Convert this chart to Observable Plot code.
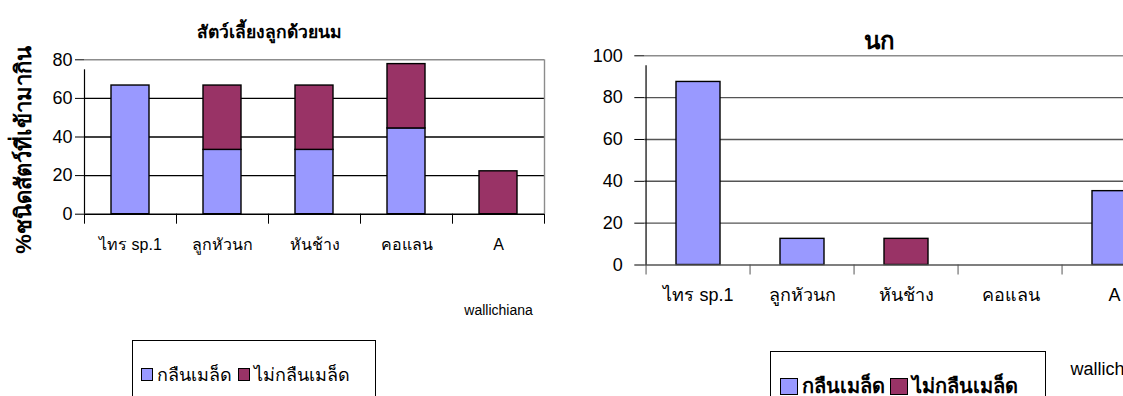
<!DOCTYPE html>
<html>
<head>
<meta charset="utf-8">
<script src="https://cdn.jsdelivr.net/npm/d3@7"></script>
<script src="https://cdn.jsdelivr.net/npm/@observablehq/plot@0.6"></script>
<style>
  html, body { margin: 0; padding: 0; background: #fff; }
  #page { position: relative; width: 1123px; height: 396px; overflow: hidden;
          font-family: "Liberation Sans", Arial, "DejaVu Sans", "Noto Sans", sans-serif; color: #000; }
  .abs { position: absolute; white-space: nowrap; }
  .legend { position: absolute; border: 1px solid #000; background: #fff; box-sizing: border-box;
            display: flex; align-items: flex-start; }
  .legend .sw { display: inline-block; border: 1.5px solid #000; box-sizing: border-box; }
  .legend .item { display: flex; align-items: center; }
</style>
</head>
<body>
<div id="page"></div>
<script>
// Fruit species (x categories); long names wrap onto a second line
const categories = ["ไทร sp.1", "ลูกหัวนก", "หันช้าง", "คอแลน", "A wallichiana"];
const labelLine1 = ["ไทร sp.1", "ลูกหัวนก", "หันช้าง", "คอแลน", "A"];
const labelLine2 = ["", "", "", "", "wallichiana"];

// Series: seed swallowed / not swallowed
const seriesNames = ["กลืนเมล็ด", "ไม่กลืนเมล็ด"];
const seriesColors = ["#9999ff", "#993366"];

// Mammals: % of visiting species
const mammalSwallowed    = [66.67, 33.33, 33.33, 44.44, 0];
const mammalNotSwallowed = [0, 33.33, 33.33, 33.33, 22.22];
const mammalTicks = [0, 20, 40, 60, 80];

// Birds: % of visiting species
const birdSwallowed    = [87.5, 12.5, 0, 0, 35.3];
const birdNotSwallowed = [0, 0, 12.5, 0, 0];
const birdTicks = [0, 20, 40, 60, 80, 100];

const fontFamily = '"Liberation Sans", Arial, "DejaVu Sans", "Noto Sans", sans-serif';

function panel(o) {
  const rows = categories.flatMap((c, i) => [
    {cat: c, series: seriesNames[0], value: o.swallowed[i]},
    {cat: c, series: seriesNames[1], value: o.notSwallowed[i]}
  ]).filter(r => r.value > 0);
  const yMax = o.ticks[o.ticks.length - 1];
  const step = (o.width - o.mL - o.mR) / categories.length;
  const first = categories[0], last = categories[categories.length - 1];
  const line1 = new Map(categories.map((c, i) => [c, labelLine1[i]]));
  const line2 = new Map(categories.map((c, i) => [c, labelLine2[i]]));
  return Plot.plot({
    width: o.width, height: o.height,
    marginLeft: o.mL, marginRight: o.mR, marginTop: o.mT, marginBottom: o.mB,
    x: {domain: categories, paddingInner: o.padding, paddingOuter: o.padding / 2, axis: null},
    y: {domain: [0, yMax], axis: null},
    color: {domain: seriesNames, range: seriesColors},
    style: {fontFamily, background: "transparent", overflow: "visible", color: "#000"},
    marks: [
      // horizontal gridlines
      Plot.ruleY(o.ticks.filter(t => t > 0 && t < yMax), {stroke: o.gridColor, strokeWidth: 1.4}),
      // plot-area border (top and right)
      Plot.ruleY([yMax], {stroke: "#8c8c8c", strokeWidth: 1.4}),
      Plot.ruleX([last], {x: d => d, dx: step / 2, y1: 0, y2: yMax, stroke: "#8c8c8c", strokeWidth: 1.4}),
      // stacked bars
      Plot.barY(rows, {x: "cat", y: "value", fill: "series", stroke: "#000", strokeWidth: 1.4}),
      // category axis with boundary ticks
      Plot.ruleY([0], {stroke: o.axisColor, strokeWidth: 1.4}),
      Plot.ruleX(categories, {x: d => d, dx: -step / 2, y1: 0, y2: 0, insetBottom: -10, stroke: o.axisColor}),
      Plot.ruleX([last], {x: d => d, dx: step / 2, y1: 0, y2: 0, insetBottom: -10, stroke: o.axisColor}),
      // value axis line
      Plot.ruleX([first], {x: d => d, dx: -step / 2, y1: 0, y2: yMax, insetBottom: -10, stroke: "#000", strokeWidth: 1.2}),
      Plot.axisY(o.ticks, {tickSize: o.tickSize, tickPadding: o.tickPadding, fontSize: o.tickFont, stroke: "#000", label: null}),
      // category labels
      Plot.text(categories, {
        x: d => d, frameAnchor: "bottom", dy: o.labelDy, lineAnchor: "middle",
        text: d => line1.get(d), fontSize: o.labelFont, fill: "#000"
      }),
      Plot.text(categories.filter(c => line2.get(c)), {
        x: d => d, frameAnchor: "bottom", dy: o.label2Dy, lineAnchor: "middle",
        text: d => line2.get(d), fontSize: o.label2Font, fill: "#000"
      })
    ]
  });
}

const page = document.getElementById("page");

// Left panel: mammals
const left = panel({
  swallowed: mammalSwallowed, notSwallowed: mammalNotSwallowed, ticks: mammalTicks,
  width: 560, height: 396, mL: 84, mR: 16, mT: 59.3, mB: 182.3,
  padding: 0.587, gridColor: "#000", axisColor: "#000",
  tickSize: 9, tickPadding: 3, tickFont: 18,
  labelDy: 31, labelFont: 16, label2Dy: 96, label2Font: 14
});
left.style.position = "absolute"; left.style.left = "0px"; left.style.top = "0px";
page.appendChild(left);

// Right panel: birds (plot area runs past the page edge)
const right = panel({
  swallowed: birdSwallowed, notSwallowed: birdNotSwallowed, ticks: birdTicks,
  width: 640, height: 396, mL: 84.3, mR: 31.2, mT: 55.3, mB: 131.5,
  padding: 0.573, gridColor: "#555", axisColor: "#555",
  tickSize: 10, tickPadding: 12, tickFont: 18,
  labelDy: 30, labelFont: 18, label2Dy: 104, label2Font: 18
});
right.style.position = "absolute"; right.style.left = "560px"; right.style.top = "0px";
page.appendChild(right);

// Titles and value-axis title
function addText(txt, css) {
  const d = document.createElement("div");
  d.className = "abs";
  d.textContent = txt;
  Object.assign(d.style, css);
  page.appendChild(d);
  return d;
}
addText("สัตว์เลี้ยงลูกด้วยนม", {fontSize: "17.5px", fontWeight: "bold", left: "269px", top: "32px", transform: "translate(-50%,-50%)"});
addText("นก", {fontSize: "24px", fontWeight: "bold", left: "879px", top: "40px", transform: "translate(-50%,-50%)"});
addText("%ชนิดสัตว์ที่เข้ามากิน", {fontSize: "22px", fontWeight: "bold", left: "23px", top: "150px", transform: "translate(-50%,-50%) rotate(-90deg)"});

// Legends
function legend(css, swW, swH, fontSize, fontWeight, gap) {
  const box = document.createElement("div");
  box.className = "legend";
  Object.assign(box.style, css);
  seriesNames.forEach((name, i) => {
    const item = document.createElement("div");
    item.className = "item";
    item.style.marginRight = gap + "px";
    const sw = document.createElement("span");
    sw.className = "sw";
    sw.style.width = swW + "px"; sw.style.height = swH + "px";
    sw.style.background = seriesColors[i];
    sw.style.marginRight = "4px";
    const lab = document.createElement("span");
    lab.textContent = name;
    lab.style.fontSize = fontSize + "px";
    lab.style.fontWeight = fontWeight;
    item.appendChild(sw); item.appendChild(lab);
    box.appendChild(item);
  });
  page.appendChild(box);
}
legend({left: "132px", top: "340px", width: "244px", height: "70px", padding: "19px 0 0 8px"}, 12, 13, 18, "normal", 6);
legend({left: "770px", top: "351px", width: "276px", height: "70px", padding: "18px 0 0 9px"}, 18, 17, 20, "bold", 5);
</script>
</body>
</html>
